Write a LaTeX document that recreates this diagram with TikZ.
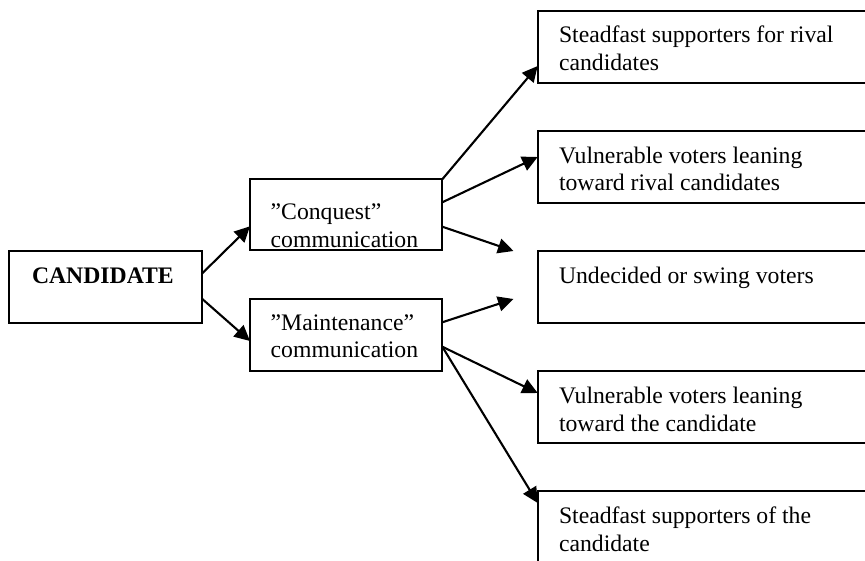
\documentclass[tikz,border=0pt]{standalone}
\usepackage{fontspec}
\setmainfont{Liberation Serif}
\usetikzlibrary{arrows.meta}
\newcommand{\mytwolines}[2]{\vtop{\hbox{#1}\hbox{#2}}}
\begin{document}
\begin{tikzpicture}[x=1pt,y=-1pt,
  box/.style={draw, line width=2.3pt, anchor=north west, inner sep=0pt, outer sep=0pt},
  rbox/.style={box, minimum width=362pt, minimum height=72pt},
  txt/.style={anchor=base west, inner sep=0pt, outer sep=0pt, font=\fontsize{23.7pt}{27.5pt}\selectfont},
  arr/.style={line width=2.1pt, -{Triangle[length=15.5pt,width=15pt]}}]
\useasboundingbox (0,0) rectangle (865,561);
\clip (0,0) rectangle (865,561);
% boxes
\node[box, minimum width=193pt, minimum height=72pt] (cand) at (9.3,251) {};
\node[box, minimum width=192.3pt, minimum height=71pt] (conq) at (250,179.3) {};
\node[box, minimum width=192.3pt, minimum height=71.7pt] (maint) at (250,299.3) {};
\node[rbox] (r1) at (537.7,11) {};
\node[rbox] (r2) at (537.7,131) {};
\node[rbox] (r3) at (537.7,251) {};
\node[rbox] (r4) at (537.7,371) {};
\node[rbox] (r5) at (537.7,491) {};
% texts
\node[txt] (tcand) at (32,284) {\textbf{CANDIDATE}};
\node[txt] (tconq) at (270.7,220) {\mytwolines{”Conquest”}{communication}};
\node[txt] (tmaint) at (270.7,330.5) {\mytwolines{”Maintenance”}{communication}};
\node[txt] (t1) at (559,43) {\mytwolines{Steadfast supporters for rival}{candidates}};
\node[txt] (t2) at (559,163.5) {\mytwolines{Vulnerable voters leaning}{toward rival candidates}};
\node[txt] (t3) at (559,284) {Undecided or swing voters};
\node[txt] (t4) at (559,403.5) {\mytwolines{Vulnerable voters leaning}{toward the candidate}};
\node[txt] (t5) at (559,523.5) {\mytwolines{Steadfast supporters of the}{candidate}};
% free arrow ends
\coordinate (u1) at (513.5,251);
\coordinate (u2) at (513.5,299);
% connectors
\draw[arr] ([yshift=-22.3pt]cand.north east) -- ([yshift=-47pt]conq.north west);
\draw[arr] ([yshift=-48pt]cand.north east) -- ([yshift=-41.7pt]maint.north west);
\draw[arr] (conq.north east) -- ([yshift=-55pt]r1.north west);
\draw[arr] ([yshift=-23pt]conq.north east) -- ([yshift=-26pt]r2.north west);
\draw[arr] ([yshift=-47.4pt]conq.north east) -- (u1);
\draw[arr] ([yshift=-23pt]maint.north east) -- (u2);
\draw[arr] ([yshift=-47.4pt]maint.north east) -- ([yshift=-22pt]r4.north west);
\draw[arr] ([yshift=-47.4pt]maint.north east) -- ([yshift=-12pt]r5.north west);
\end{tikzpicture}
\end{document}
